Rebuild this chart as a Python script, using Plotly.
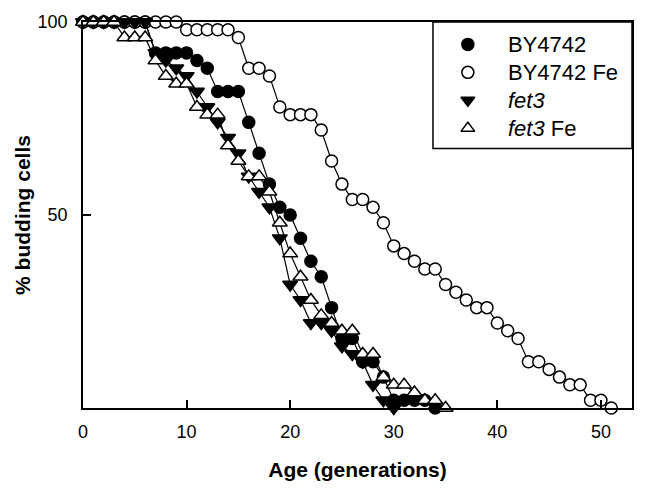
import plotly.graph_objects as go

# ---- data ----
by_x = list(range(0, 35))
by_y = [100, 100, 100, 100, 100, 100, 100, 92, 92, 92,
        92, 90, 88, 82, 82, 82, 74, 66, 58, 52,
        50, 44, 38, 34, 26, 18, 18, 12, 12, 8,
        2, 2, 2, 2, 0]

byfe_x = list(range(0, 52))
byfe_y = [100, 100, 100, 100, 100, 100, 100, 100, 100, 100,
          98, 98, 98, 98, 98, 96, 88, 88, 86, 78,
          76, 76, 76, 72, 64, 58, 54, 54, 52, 48,
          42, 40, 38, 36, 36, 32, 30, 28, 26, 26,
          22, 20, 18, 12, 12, 10, 8, 6, 6, 2,
          2, 0]

fet3_x = list(range(0, 31))
fet3_y = [100, 100, 100, 100, 100, 100, 100, 92, 90, 88,
          86, 82, 78, 74, 70, 66, 60, 56, 52, 44,
          32, 28, 22, 22, 20, 16, 14, 12, 6, 2,
          0]

fet3fe_x = list(range(0, 36))
fet3fe_y = [100, 100, 100, 100, 96, 96, 96, 90, 86, 84,
            84, 78, 76, 76, 68, 64, 60, 60, 56, 48,
            40, 34, 28, 24, 22, 20, 20, 14, 14, 8,
            6, 6, 4, 2, 2, 0]

series_names = ["BY4742", "BY4742 Fe", "<i>fet3</i>", "<i>fet3</i> Fe"]
series_symbols = ["circle", "circle", "triangle-down", "triangle-up"]
series_fills = ["black", "white", "black", "white"]
x_ticks = [0, 10, 20, 30, 40, 50]
y_ticks = [50, 100]
y_tick_text = ["50", "100"]

FONT = "Liberation Sans, Arial, sans-serif"

fig = go.Figure()

series = [(by_x, by_y), (byfe_x, byfe_y), (fet3_x, fet3_y), (fet3fe_x, fet3fe_y)]
for (x, y), name, sym, fill in zip(series, series_names, series_symbols, series_fills):
    size = 12 if sym == "circle" else 13
    fig.add_trace(go.Scatter(
        x=x, y=y, name=name, mode="lines+markers", showlegend=False,
        line=dict(color="black", width=1.2),
        marker=dict(symbol=sym, size=size, color=fill,
                    line=dict(color="black", width=1.5)),
        cliponaxis=False,
    ))

# ---- manual legend (box + marker-only keys, like the reference) ----
LX0, LX1, LY0, LY1 = 0.6375, 1.0, 0.672, 1.0
fig.add_shape(type="rect", xref="paper", yref="paper",
              x0=LX0, x1=LX1, y0=LY0, y1=LY1,
              line=dict(color="black", width=1.5), fillcolor="white",
              layer="below")
key_x = 0.701
text_x = 0.770
row_y = [0.942, 0.8695, 0.797, 0.7245]
for i, (name, sym, fill) in enumerate(zip(series_names, series_symbols, series_fills)):
    fig.add_trace(go.Scatter(
        x=[key_x], y=[row_y[i]], xaxis="x2", yaxis="y2", mode="markers",
        showlegend=False, hoverinfo="skip",
        marker=dict(symbol=sym, size=12 if sym == "circle" else 12,
                    color=fill, line=dict(color="black", width=1.5)),
    ))
    fig.add_annotation(x=text_x, y=row_y[i], xref="paper", yref="paper",
                       text=name, showarrow=False, xanchor="left", yanchor="middle",
                       font=dict(size=22, family=FONT, color="black"))

# page body has an 8px margin, so the figure is offset by (8, 8)
fig.update_layout(
    width=641, height=488,
    margin=dict(l=75, r=17, t=14, b=88),
    paper_bgcolor="white", plot_bgcolor="white",
    font=dict(family=FONT, size=18, color="black"),
    showlegend=False,
    xaxis=dict(
        range=[0, 53], tickvals=x_ticks, automargin=False,
        ticks="inside", ticklen=8, tickwidth=1.5, tickcolor="black",
        showline=True, linecolor="black", linewidth=1.5, mirror=True,
        showgrid=False, zeroline=False,
        tickfont=dict(size=18),
        ticklabelstandoff=7,
        title=dict(text="<b>Age (generations)</b>", font=dict(size=21), standoff=21),
    ),
    yaxis=dict(
        range=[0, 100], tickvals=y_ticks, ticktext=y_tick_text, automargin=False,
        ticks="inside", ticklen=8, tickwidth=1.5, tickcolor="black",
        showline=True, linecolor="black", linewidth=1.5, mirror=True,
        showgrid=False, zeroline=False,
        tickfont=dict(size=18),
        ticklabelstandoff=10,
        title=dict(text="<b>% budding cells</b>", font=dict(size=21), standoff=1),
    ),
    xaxis2=dict(range=[0, 1], domain=[0, 1], overlaying="x", visible=False,
                fixedrange=True),
    yaxis2=dict(range=[0, 1], domain=[0, 1], overlaying="y", visible=False,
                fixedrange=True),
)

fig.write_html("out.html")
